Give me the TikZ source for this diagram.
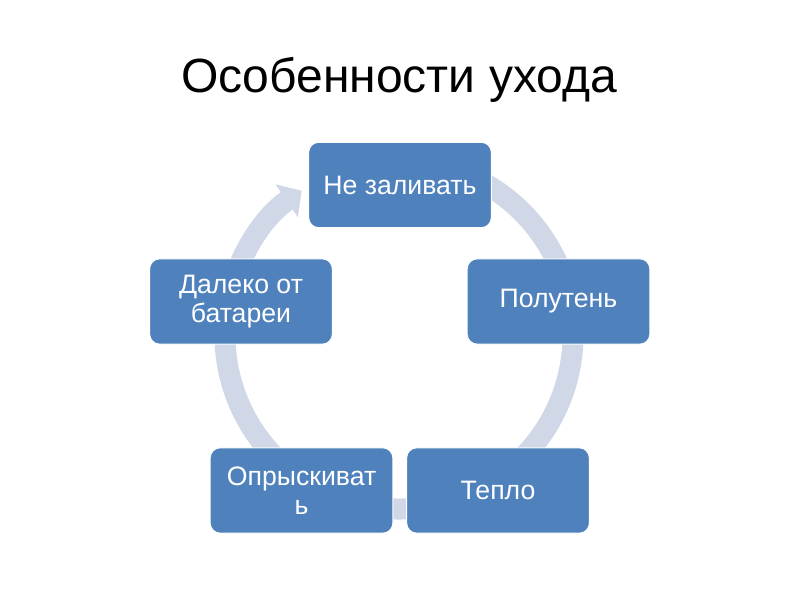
\documentclass[tikz,border=0pt]{standalone}
\usepackage{fontspec}
\setmainfont{Liberation Sans}
\usetikzlibrary{arrows.meta}
\definecolor{petal}{HTML}{4F81BD}
\definecolor{loop}{HTML}{D0D7E6}

\begin{document}
\begin{tikzpicture}[
    x=0.75pt,
    y=0.75pt,
    stepbox/.style={
        draw=white,
        line width=0.75pt,
        fill=petal,
        text=white,
        rounded corners=7.5pt,
        align=center,
        minimum width=137pt,
        minimum height=64pt,
        inner sep=3pt,
        font=\fontsize{20}{22}\selectfont
    },
    heading/.style={font=\fontsize{36}{40}\selectfont, anchor=base},
    ringarrow/.style={
        draw=loop,
        line width=15.75pt,
        -{Triangle[width=29pt, length=13.5pt]}
    }
]

\useasboundingbox (0,0) rectangle (800,600);
\coordinate (hub) at (399,265);

\node[heading] (title) at (399,507) {Особенности ухода};

% continuous ring behind the steps
\draw[ringarrow] ([shift={(80:174)}]hub) arc[start angle=80, end angle=-236, radius=174];

\node[stepbox] (pour)  at (400,415)   {Не заливать};
\node[stepbox] (shade) at (558.5,298.5) {Полутень};
\node[stepbox] (warm)  at (498,109.5) {Тепло};
\node[stepbox] (spray) at (301.5,109.5) {Опрыскиват\\ь};
\node[stepbox] (far)   at (241,298.5) {Далеко от\\батареи};

\end{tikzpicture}
\end{document}
